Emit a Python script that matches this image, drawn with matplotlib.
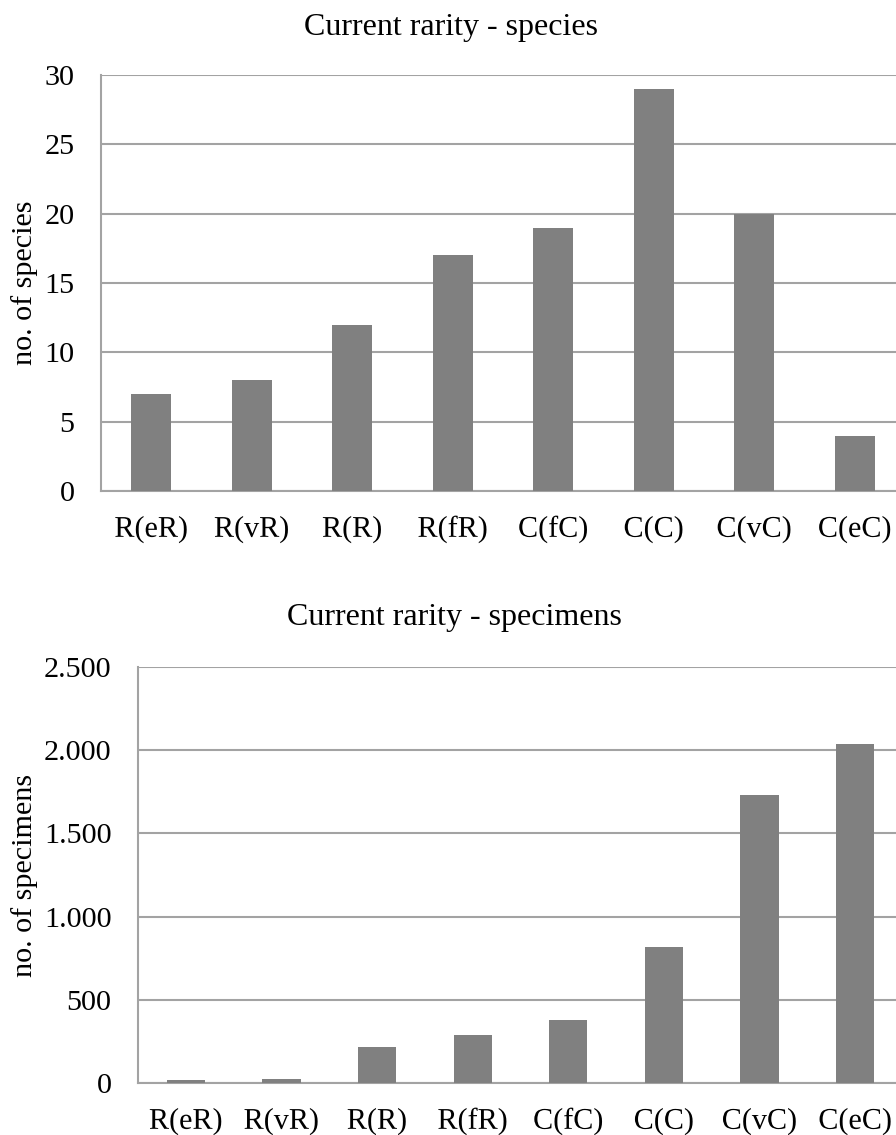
import matplotlib.pyplot as plt
import matplotlib.patheffects as pe
import numpy as np

plt.rcParams['font.family'] = ['Liberation Serif', 'DejaVu Serif']

categories = ['R(eR)', 'R(vR)', 'R(R)', 'R(fR)', 'C(fC)', 'C(C)', 'C(vC)', 'C(eC)']
species = [7, 8, 12, 17, 19, 29, 20, 4]
specimens = [18, 26, 216, 286, 376, 819, 1733, 2035]

species_ticks = [0, 5, 10, 15, 20, 25, 30]
specimen_ticks = [0, 500, 1000, 1500, 2000, 2500]
specimen_labels = ['0', '500', '1.000', '1.500', '2.000', '2.500']

W, H = 896, 1135
fig = plt.figure(figsize=(W / 100, H / 100), dpi=100)

bar_color = '#808080'
grid_color = '#a3a3a3'
fs = 21.7
title_fs = 23


def px_axes(left, top, right, bottom):
    return fig.add_axes([left / W, 1 - bottom / H, (right - left) / W, (bottom - top) / H])


def style(ax, ticks, labels, ylabel):
    x = np.arange(len(categories))
    ax.set_xlim(-0.5, len(categories) - 0.5)
    ax.set_ylim(ticks[0], ticks[-1])
    ax.tick_params(axis='both', length=0)
    ax.tick_params(axis='y', pad=19)
    ax.tick_params(axis='x', pad=33)
    ax.set_yticks(ticks)
    ax.set_yticklabels(labels, fontsize=fs)
    ax.set_xticks(x)
    ax.set_xticklabels(categories, fontsize=fs)
    # keep the baselines of the category labels on one line
    # (drawn as paths so the glyph bitmaps don't shift by a pixel or two)
    for lab in ax.get_xticklabels():
        lab.set_verticalalignment('baseline')
        lab.set_path_effects([pe.Normal()])
    ax.yaxis.grid(True, color=grid_color, linewidth=1.5)
    ax.set_axisbelow(True)
    for s in ['top', 'right']:
        ax.spines[s].set_visible(False)
    for s in ['left', 'bottom']:
        ax.spines[s].set_color(grid_color)
        ax.spines[s].set_linewidth(1.5)
    ax.set_ylabel(ylabel, fontsize=fs)


# top chart: species
ax1 = px_axes(101, 75, 905, 491)
ax1.bar(np.arange(len(categories)), species, width=0.4, color=bar_color, zorder=3)
style(ax1, species_ticks, [str(t) for t in species_ticks], 'no. of species')
ax1.yaxis.set_label_coords(-63 / 804, 0.5)
fig.text(451 / W, 1 - 27 / H, 'Current rarity - species', ha='center', va='center', fontsize=title_fs)

# bottom chart: specimens
ax2 = px_axes(138, 667, 903, 1083)
ax2.bar(np.arange(len(categories)), specimens, width=0.4, color=bar_color, zorder=3)
style(ax2, specimen_ticks, specimen_labels, 'no. of specimens')
ax2.yaxis.set_label_coords(-100 / 765, 0.5)
fig.text(454 / W, 1 - 617 / H, 'Current rarity - specimens', ha='center', va='center', fontsize=title_fs)

fig.savefig('out.png', dpi=100)
